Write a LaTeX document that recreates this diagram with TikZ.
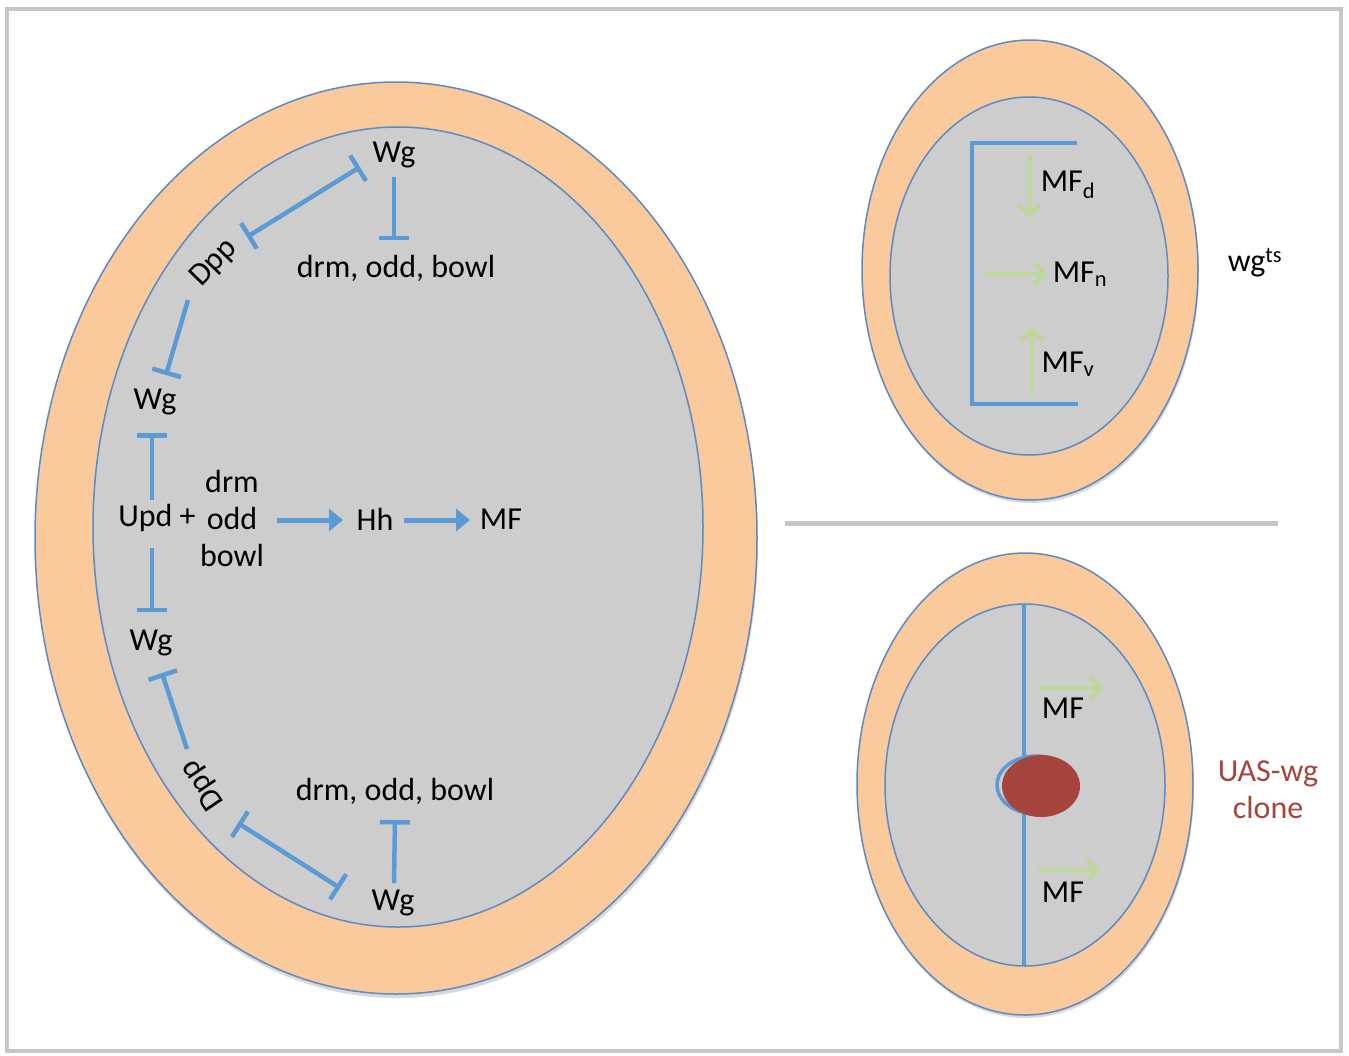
\documentclass[tikz,border=0pt]{standalone}
\usepackage{fontspec}
\setmainfont{Carlito}
\usetikzlibrary{arrows.meta,calc}
\definecolor{peach}{HTML}{FAC99C}
\definecolor{cellgray}{HTML}{CDCDCD}
\definecolor{edgeblue}{HTML}{5A8BC4}
\definecolor{linkblue}{HTML}{5B9BD5}
\definecolor{mfgreen}{HTML}{BDD898}
\definecolor{clonered}{HTML}{A6453D}
\definecolor{framegray}{HTML}{C6C6C6}
\begin{document}
\begin{tikzpicture}[x=1pt,y=-1pt,
  lbl/.style={inner sep=0pt, font=\fontsize{32}{37}\selectfont},
  inh/.style={linkblue, line width=4.5pt, -{Bar[width=30pt]}},
  mutual/.style={linkblue, line width=4.5pt, {Bar[width=30pt]}-{Bar[width=30pt]}},
  act/.style={linkblue, line width=5pt, -{Triangle[width=22pt,length=14pt]}},
  mfarrow/.style={mfgreen, line width=4.5pt, -{Straight Barb[length=10pt,width=22pt]}},
  cellout/.style={edgeblue, line width=1.5pt, fill=peach},
  cellin/.style={edgeblue, line width=1.5pt, fill=cellgray},
  shade/.style={fill=black, opacity=.15}
]
\useasboundingbox (0,0) rectangle (1349,1055);
\fill[white] (0,0) rectangle (1349,1055);
\draw[framegray, line width=4pt] (7,9) rectangle (1341,1051);

% ---- left eye disc ----
\fill[shade] (397,542) ellipse [x radius=361, y radius=456];
\draw[cellout] (396,538) ellipse [x radius=361, y radius=456];
\draw[cellin] (398,527) ellipse [x radius=305, y radius=400];

\node[lbl] (wgT) at (394,155) {Wg};
\node[lbl] (drmT) at (396,268) {drm, odd, bowl};
\node[lbl, rotate=46] (dppT) at (214,263) {Dpp};
\node[lbl] (wgU) at (155,402) {Wg};
\node[lbl] (upd) at (157,518) {Upd +};
\node[lbl, align=center] (stk) at (232,518) {drm\\odd\\bowl};
\node[lbl] (hh) at (375,519) {Hh};
\node[lbl] (mf) at (501,519) {MF};
\node[lbl] (wgL) at (151,643) {Wg};
\node[lbl, rotate=124] (dppB) at (203,785) {Dpp};
\node[lbl] (drmB) at (395,791) {drm, odd, bowl};
\node[lbl] (wgB) at (393,903) {Wg};

\draw[mutual] ([shift={(33,-26)}]dppT.center) -- ([shift={(-34,12)}]wgT.center);
\draw[inh] ([shift={(0,22)}]wgT.center) -- ([shift={(-2,-28)}]drmT.center);
\draw[inh] ([shift={(-26,37)}]dppT.center) -- ([shift={(11,-27)}]wgU.center);
\draw[inh] ([shift={(-5,-18)}]upd.center) -- ([shift={(-3,31)}]wgU.center);
\draw[inh] ([shift={(-5,30)}]upd.center) -- ([shift={(1,-31)}]wgL.center);
\draw[inh] ([shift={(-16,-36)}]dppB.center) -- ([shift={(11,30)}]wgL.center);
\draw[mutual] ([shift={(35,38)}]dppB.center) -- ([shift={(-53,-15)}]wgB.center);
\draw[inh] ([shift={(1,-20)}]wgB.center) -- ([shift={(0,29)}]drmB.center);
\draw[act] ([shift={(45,2)}]stk.center) -- ([shift={(-32,1)}]hh.center);
\draw[act] ([shift={(29,1)}]hh.center) -- ([shift={(-31,1)}]mf.center);

% ---- separator ----
\draw[framegray, line width=5pt] (785,523) -- (1278,523);

% ---- top right: wg^ts ----
\fill[shade] (1031,273) ellipse [x radius=168, y radius=230];
\draw[cellout] (1030,270) ellipse [x radius=168, y radius=230];
\draw[cellin] (1029,276) ellipse [x radius=139, y radius=179];
\draw[linkblue, line width=4pt] (1077,143) -- (972,143) -- (972,404) -- (1078,404);

\node[lbl] (mfd) at (1068,185) {MF\textsubscript{d}};
\node[lbl] (mfn) at (1080,274) {MF\textsubscript{n}};
\node[lbl] (mfv) at (1068,364) {MF\textsubscript{v}};
\draw[mfarrow] ([shift={(-38,-30)}]mfd.center) -- ([shift={(-38,33)}]mfd.center);
\draw[mfarrow] ([shift={(-95,0)}]mfn.center) -- ([shift={(-33,0)}]mfn.center);
\draw[mfarrow] ([shift={(-36,29)}]mfv.center) -- ([shift={(-36,-37)}]mfv.center);
\node[lbl] (wgts) at (1255,263) {wg\textsuperscript{ts}};

% ---- bottom right: UAS-wg clone ----
\fill[shade] (1026,787) ellipse [x radius=168, y radius=231];
\draw[cellout] (1025,784) ellipse [x radius=168, y radius=231];
\draw[cellin] (1025,785) ellipse [x radius=140, y radius=181];
\draw[linkblue, line width=3.5pt] (1024,604) -- (1024,966);
\draw[linkblue, line width=3.5pt] (1036,785) ellipse [x radius=39, y radius=29];
\fill[clonered] (1041,786) ellipse [x radius=39, y radius=31];

\node[lbl] (mf1) at (1063,708) {MF};
\node[lbl] (mf2) at (1063,892) {MF};
\draw[mfarrow] ([shift={(-25,-20)}]mf1.center) -- ([shift={(40,-20)}]mf1.center);
\draw[mfarrow] ([shift={(-25,-22)}]mf2.center) -- ([shift={(37,-22)}]mf2.center);
\node[lbl, text=clonered, align=center] (uas) at (1268,790) {UAS-wg\\clone};
\end{tikzpicture}
\end{document}
